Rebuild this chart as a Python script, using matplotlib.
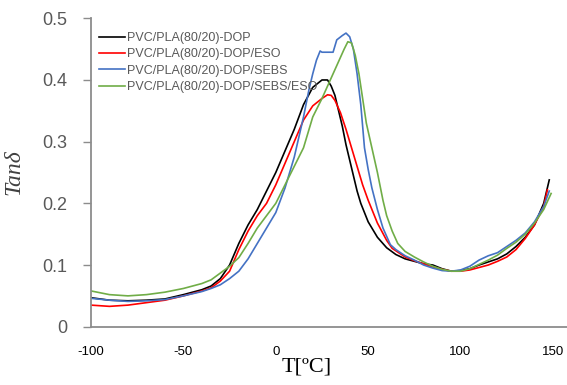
import matplotlib
matplotlib.use("Agg")
import matplotlib.pyplot as plt

labels = ["PVC/PLA(80/20)-DOP", "PVC/PLA(80/20)-DOP/ESO",
          "PVC/PLA(80/20)-DOP/SEBS", "PVC/PLA(80/20)-DOP/SEBS/ESO"]
colors = ["#000000", "#FF0000", "#4472C4", "#70AD47"]

t_dop = [-100, -90, -80, -70, -60, -50, -40, -35, -30, -25, -20, -15, -10, -5, 0, 5, 10, 15, 20, 25, 28,
         30, 32, 34, 36, 38, 40, 42, 44, 46, 48, 50, 55, 60, 65, 70, 75, 80, 85, 90, 95, 100, 105, 110,
         115, 120, 125, 130, 135, 140, 145, 148]
v_dop = [0.047, 0.043, 0.042, 0.043, 0.045, 0.052, 0.060, 0.066, 0.078, 0.100, 0.135, 0.165, 0.19, 0.22,
         0.25, 0.285, 0.32, 0.36, 0.388, 0.40, 0.40, 0.39, 0.375, 0.35, 0.325, 0.295, 0.27, 0.245, 0.22,
         0.20, 0.185, 0.17, 0.145, 0.128, 0.117, 0.11, 0.106, 0.102, 0.10, 0.094, 0.09, 0.091, 0.094,
         0.10, 0.105, 0.11, 0.118, 0.13, 0.145, 0.165, 0.20, 0.238]

t_eso = [-100, -90, -80, -70, -60, -50, -40, -35, -30, -25, -20, -15, -10, -5, 0, 5, 10, 15, 20, 25, 28,
         30, 32, 35, 38, 41, 44, 47, 50, 55, 60, 63, 70, 75, 80, 85, 90, 95, 100, 105, 110, 115, 120,
         125, 130, 135, 140, 145, 147]
v_eso = [0.035, 0.033, 0.035, 0.039, 0.043, 0.05, 0.058, 0.063, 0.074, 0.09, 0.125, 0.155, 0.18, 0.20,
         0.23, 0.265, 0.30, 0.335, 0.358, 0.37, 0.376, 0.375, 0.367, 0.347, 0.32, 0.29, 0.26, 0.23, 0.205,
         0.168, 0.14, 0.127, 0.113, 0.107, 0.102, 0.097, 0.093, 0.09, 0.09, 0.092, 0.096, 0.10, 0.106,
         0.113, 0.125, 0.143, 0.165, 0.195, 0.222]

t_sebs = [-100, -90, -80, -70, -60, -50, -40, -35, -30, -25, -20, -15, -10, -5, 0, 5, 10, 15, 18, 20,
          22, 24, 25, 28, 31, 33, 36, 38, 40, 42, 44, 46, 48, 50, 52, 55, 58, 62, 65, 70, 75, 80, 85,
          90, 95, 100, 105, 110, 115, 120, 125, 130, 135, 140, 145, 148]
v_sebs = [0.046, 0.043, 0.041, 0.042, 0.044, 0.05, 0.057, 0.062, 0.068, 0.078, 0.09, 0.11, 0.135, 0.16,
          0.185, 0.225, 0.275, 0.34, 0.385, 0.41, 0.432, 0.447, 0.445, 0.445, 0.445, 0.465, 0.472, 0.476,
          0.47, 0.45, 0.41, 0.36, 0.29, 0.255, 0.225, 0.19, 0.16, 0.133, 0.125, 0.115, 0.108, 0.10,
          0.095, 0.091, 0.09, 0.092, 0.098, 0.108, 0.115, 0.12, 0.13, 0.14, 0.152, 0.17, 0.195, 0.22]

t_all = [-100, -90, -80, -70, -60, -50, -40, -35, -30, -25, -20, -15, -10, -5, 0, 5, 10, 15, 20, 25,
         28, 31, 34, 37, 39, 41, 43, 45, 47, 49, 52, 55, 58, 60, 63, 66, 70, 75, 80, 85, 90, 95, 100,
         105, 110, 115, 120, 125, 130, 135, 140, 145, 149]
v_all = [0.058, 0.052, 0.05, 0.052, 0.056, 0.062, 0.07, 0.076, 0.087, 0.098, 0.112, 0.135, 0.16, 0.18,
         0.20, 0.23, 0.26, 0.29, 0.34, 0.37, 0.39, 0.41, 0.43, 0.45, 0.462, 0.46, 0.44, 0.41, 0.37,
         0.33, 0.29, 0.25, 0.205, 0.18, 0.155, 0.135, 0.122, 0.113, 0.105, 0.098, 0.093, 0.09, 0.09,
         0.094, 0.101, 0.108, 0.116, 0.127, 0.137, 0.15, 0.168, 0.19, 0.216]

x_ticks = [-100, -50, 0, 50, 100, 150]
y_ticks = [0, 0.1, 0.2, 0.3, 0.4, 0.5]
y_ticklabels = ["0", "0.1", "0.2", "0.3", "0.4", "0.5"]

plt.rcParams['font.family'] = ['Liberation Sans', 'DejaVu Sans']

fig = plt.figure(figsize=(5.67, 3.85), dpi=100)
ax = fig.add_axes([0.1605, 0.1514, 0.8395, 0.8011])

series = [(t_dop, v_dop), (t_eso, v_eso), (t_sebs, v_sebs), (t_all, v_all)]
for (t, v), lab, c in zip(series, labels, colors):
    ax.plot(t, v, color=c, lw=1.2, label=lab)

ax.set_xlim(-100, 157.6)
ax.set_ylim(0, 0.5)
ax.set_xticks(x_ticks)
ax.set_xticklabels([str(v) for v in x_ticks])
ax.set_yticks(y_ticks)
ax.set_yticklabels(y_ticklabels)

for s in ["top", "right"]:
    ax.spines[s].set_visible(False)
for s in ["left", "bottom"]:
    ax.spines[s].set_color("#8C8C8C")
    ax.spines[s].set_linewidth(1.3)

ax.tick_params(axis='y', length=6, width=1.0, color="#8C8C8C", pad=11,
               labelsize=13, labelcolor="#595959")
ax.tick_params(axis='x', length=0, pad=14, labelsize=9.5, labelcolor="#000000")

ax.set_xlabel("T[ºC]", family=["Liberation Serif"], fontsize=16, color="#000000")
ax.xaxis.set_label_coords(0.454, -0.10)
ax.set_ylabel("Tanδ", family=["Liberation Serif"], style="italic", fontsize=17, color="#404040")
ax.yaxis.set_label_coords(-0.139, 0.5)

leg = ax.legend(loc="upper left", bbox_to_anchor=(0.0, 0.98), frameon=False,
                fontsize=9, handlelength=2.1, handletextpad=0.2, labelspacing=0.35,
                borderaxespad=0.2)
for txt in leg.get_texts():
    txt.set_color("#595959")

fig.savefig("out.png", dpi=100)
